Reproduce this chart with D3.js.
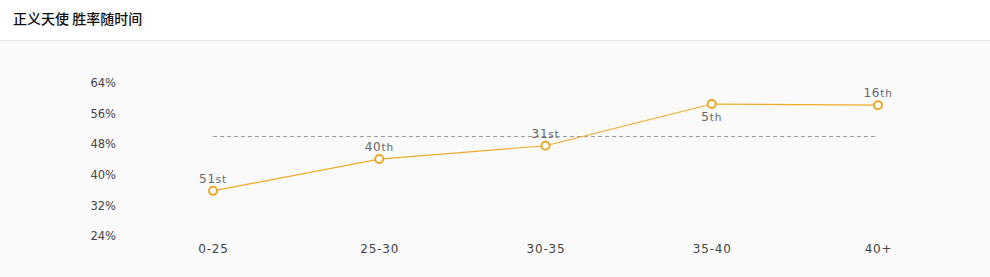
<!DOCTYPE html>
<html><head><meta charset="utf-8">
<script src="https://cdn.jsdelivr.net/npm/d3@7/dist/d3.min.js"></script>
<style>
html,body{margin:0;padding:0;background:#fff;}
svg{display:block;}
</style></head>
<body>
<svg id="chart" width="990" height="277"></svg>
<script>
const title = "正义天使 胜率随时间";
const categories = ["0-25", "25-30", "30-35", "35-40", "40+"];
const winRates = [35.8, 44.1, 47.6, 58.5, 58.2];
const rankNums = ["51", "40", "31", "5", "16"];
const rankSuffix = ["st", "th", "st", "th", "th"];
const labelBelow = [false, false, false, true, false];
const yTicks = [24, 32, 40, 48, 56, 64];
const average = 50;

const W = 990, H = 277;
const svg = d3.select("#chart");

svg.append("rect").attr("x",0).attr("y",0).attr("width",W).attr("height",H).attr("fill","#fff");
svg.append("rect").attr("x",0).attr("y",40).attr("width",W).attr("height",H-40).attr("fill","#fafafa");
svg.append("line").attr("x1",0).attr("x2",W).attr("y1",40.5).attr("y2",40.5).attr("stroke","#e6e6e6");

svg.append("text").attr("x",13).attr("y",24).text(title)
  .attr("font-family","'Noto Sans CJK SC', sans-serif").attr("font-size",14).attr("font-weight",500).attr("fill","#111");

const x = d3.scalePoint().domain(categories).range([213, 878]).padding(0);
const y = d3.scaleLinear().domain([24, 64]).range([236, 83]);

const yAxis = d3.axisLeft(y).tickValues(yTicks).tickSize(0).tickPadding(0).tickFormat(d => d + "%");
const gy = svg.append("g").attr("transform","translate(116,0)").call(yAxis);
gy.select(".domain").remove();
gy.selectAll("text").attr("font-family","'DejaVu Sans', sans-serif").attr("font-size",11.5).attr("fill","#444");

const xAxis = d3.axisBottom(x).tickSize(0).tickPadding(0);
const gx = svg.append("g").attr("transform","translate(0,244)").call(xAxis);
gx.select(".domain").remove();
gx.selectAll("text").attr("font-family","'DejaVu Sans', sans-serif").attr("font-size",12).attr("letter-spacing","0.8px").attr("fill","#444");

// average dashed line
svg.append("line")
  .attr("x1", x(categories[0])).attr("x2", x(categories[categories.length-1]))
  .attr("y1", y(average)).attr("y2", y(average))
  .attr("stroke","#999").attr("stroke-dasharray","4,3").attr("stroke-width",1);

const data = categories.map((c,i)=>({c, v: winRates[i], n: rankNums[i], s: rankSuffix[i], below: labelBelow[i]}));

svg.append("path").datum(data)
  .attr("d", d3.line().x(d=>x(d.c)).y(d=>y(d.v)))
  .attr("fill","none").attr("stroke","#f0aa2a").attr("stroke-width",1.2);

svg.selectAll("circle.pt").data(data).enter().append("circle")
  .attr("class","pt").attr("cx",d=>x(d.c)).attr("cy",d=>y(d.v)).attr("r",4)
  .attr("fill","#fff").attr("stroke","#e8a82a").attr("stroke-width",2);

const lab = svg.selectAll("text.lab").data(data).enter().append("text")
  .attr("class","lab")
  .attr("x", d=>x(d.c)).attr("y", d=> d.below ? y(d.v)+17 : y(d.v)-8)
  .attr("text-anchor","middle").attr("letter-spacing","0.8px")
  .attr("font-family","'DejaVu Sans', sans-serif").attr("fill","#666");
lab.append("tspan").attr("font-size",12).text(d=>d.n);
lab.append("tspan").attr("font-size",10.5).text(d=>d.s);
</script>
</body></html>
